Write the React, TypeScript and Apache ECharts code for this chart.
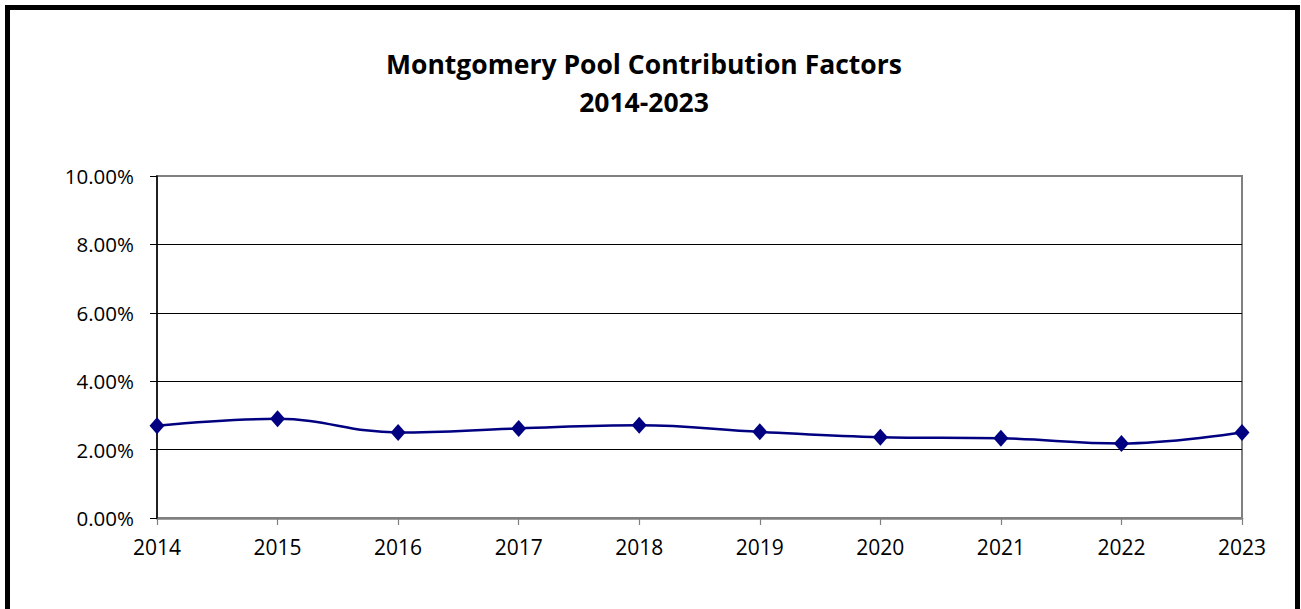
import React, { useEffect, useRef } from "react";
import * as echarts from "echarts";

const years = ["2014", "2015", "2016", "2017", "2018", "2019", "2020", "2021", "2022", "2023"];
const factors = [2.7, 2.9, 2.5, 2.62, 2.71, 2.52, 2.36, 2.33, 2.18, 2.5];
const titleLines = ["Montgomery Pool Contribution Factors", "2014-2023"];

export default function App() {
  const ref = useRef<HTMLDivElement>(null);
  useEffect(() => {
    if (!ref.current) return;
    const chart = echarts.init(ref.current, undefined, { renderer: "svg" });
    const font = "'Open Sans', sans-serif";
    chart.setOption({
      animation: false,
      backgroundColor: "#ffffff",
      title: {
        text: titleLines.join("\n"),
        left: 639,
        top: 40,
        textAlign: "center",
        textStyle: { fontFamily: font, fontSize: 26.5, fontWeight: "bold", color: "#000", lineHeight: 38 },
      },
      grid: {
        left: 157,
        right: 59,
        top: 176,
        bottom: 91,
        containLabel: false,
        show: true,
        borderColor: "#808080",
        borderWidth: 2,
        backgroundColor: "transparent",
      },
      xAxis: {
        type: "category",
        data: years,
        boundaryGap: false,
        axisLine: { show: true, onZero: false, lineStyle: { color: "#808080", width: 2.5 } },
        axisTick: { show: true, length: 7, lineStyle: { color: "#808080", width: 1.2 } },
        axisLabel: { color: "#000", fontFamily: font, fontSize: 21, margin: 18 },
        splitLine: { show: false },
        z: 5,
      },
      yAxis: {
        type: "value",
        min: 0,
        max: 10,
        interval: 2,
        axisLine: { show: true, lineStyle: { color: "#000", width: 1.5 } },
        axisTick: { show: true, length: 7, lineStyle: { color: "#000", width: 1 } },
        axisLabel: {
          color: "#000",
          fontFamily: font,
          fontSize: 20.5,
          margin: 23,
          formatter: (v: number) => v.toFixed(2) + "%",
        },
        splitLine: { show: true, showMaxLine: false, showMinLine: false, lineStyle: { color: "#000", width: 1 } },
        z: 6,
      },
      series: [
        {
          type: "line",
          data: factors,
          smooth: 0.4,
          symbol: "diamond",
          symbolSize: [15, 17],
          lineStyle: { color: "#000080", width: 2.5 },
          itemStyle: { color: "#000080" },
          z: 10,
        },
      ],
      graphic: [
        {
          type: "rect",
          shape: { x: 7.5, y: 7.5, width: 1290, height: 620 },
          style: { fill: "none", stroke: "#000", lineWidth: 5 },
          silent: true,
          z: 100,
        },
      ],
    });
    return () => chart.dispose();
  }, []);
  return (
    <div
      ref={ref}
      style={{ position: "fixed", left: 0, top: 0, width: 1301, height: 609, background: "#fff" }}
    />
  );
}
